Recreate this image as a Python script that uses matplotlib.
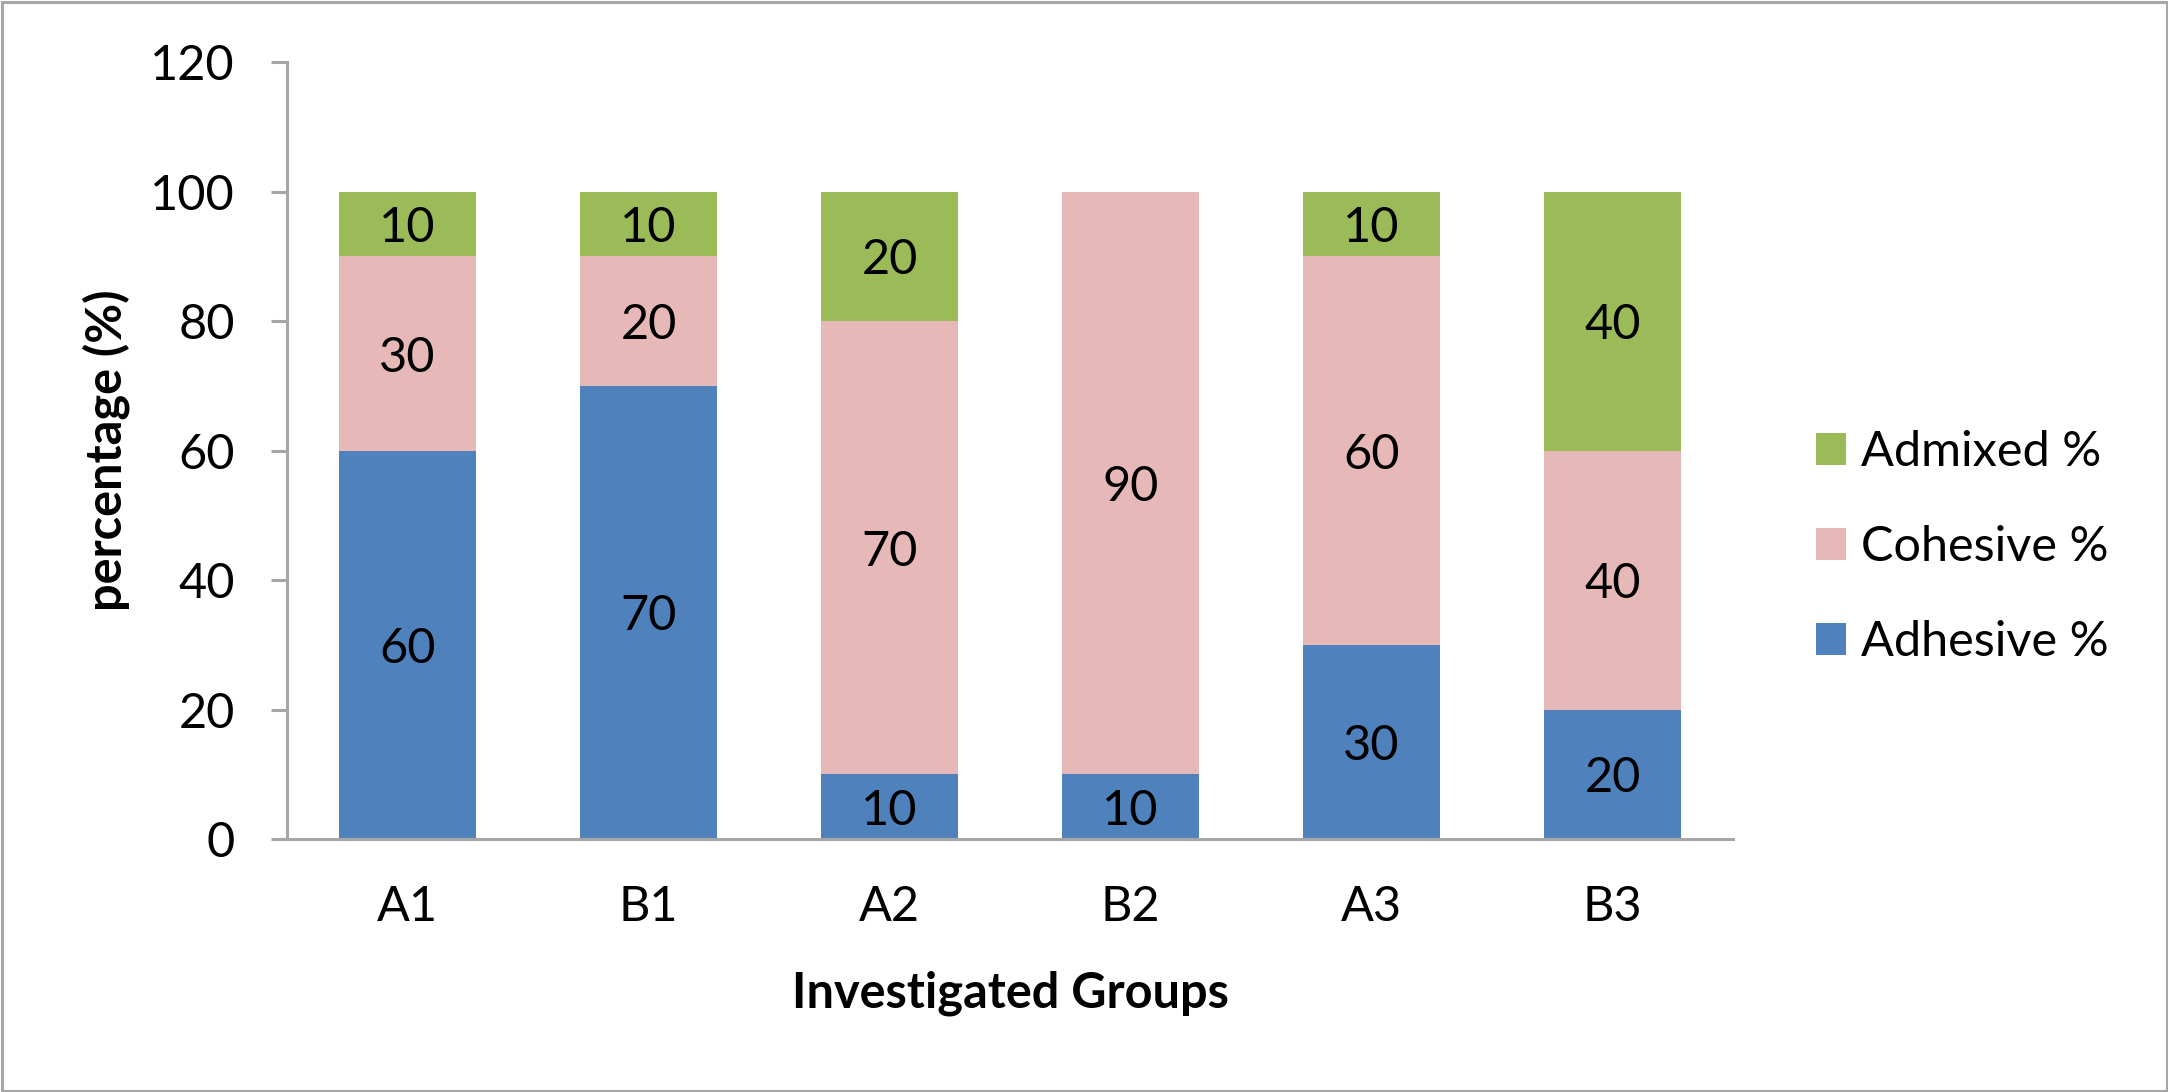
import numpy as np
import matplotlib
matplotlib.use('Agg')
import matplotlib.pyplot as plt
from matplotlib.patches import Rectangle

# data
groups = ['A1', 'B1', 'A2', 'B2', 'A3', 'B3']
adhesive = [60, 70, 10, 10, 30, 20]
cohesive = [30, 20, 70, 90, 60, 40]
admixed = [10, 10, 20, 0, 10, 40]

series_names = ['Adhesive %', 'Cohesive %', 'Admixed %']
colors = ['#4F81BD', '#E6B9B8', '#9BBB59']
yticks = [0, 20, 40, 60, 80, 100, 120]

plt.rcParams['font.family'] = ['Lato', 'DejaVu Sans']
fs = 35
axis_gray = '#A6A6A6'

W, H = 2168, 1092
fig = plt.figure(figsize=(W / 100, H / 100), dpi=100)
ax = fig.add_axes([287 / W, 1 - 839 / H, (1733 - 287) / W, (839 - 62.3) / H])

x = np.arange(len(groups))
bw = 137 / 241.0
bottom = np.zeros(len(groups))
containers = []
for vals, col, name in zip([adhesive, cohesive, admixed], colors, series_names):
    c = ax.bar(x, vals, bw, bottom=bottom, color=col, label=name, zorder=2)
    containers.append((c, vals))
    bottom = bottom + np.array(vals)

#data labels in the middle of each segment, skip empty ones
for c, vals in containers:
    texts = ax.bar_label(c, labels=[str(v) if v else '' for v in vals],
                         label_type='center', fontsize=fs, color='black')
    for t in texts:
        t.set_va('center_baseline')

ax.set_xlim(-0.5, len(groups) - 0.5)
ax.set_ylim(0, 120)
ax.set_yticks(yticks)
ax.set_xticks(x)
ax.set_xticklabels(groups)

for s in ['top', 'right']:
    ax.spines[s].set_visible(False)
for s in ['left', 'bottom']:
    ax.spines[s].set_color(axis_gray)
    ax.spines[s].set_linewidth(2.2)

ax.tick_params(axis='y', length=11.5, width=2.2, color=axis_gray,
               labelsize=fs, pad=26)
ax.tick_params(axis='x', length=0, labelsize=fs, pad=33)

ax.set_xlabel('Investigated Groups', fontsize=fs, fontweight='bold', va='baseline')
ax.xaxis.set_label_coords(0.5, (839 - 1008) / 776.7)

fig.text(122 / W, 1 - 450 / H, 'percentage (%)', fontsize=fs, fontweight='bold',
         rotation=90, rotation_mode='anchor', ha='center', va='baseline')

handles, labels = ax.get_legend_handles_labels()
leg = ax.legend(handles[::-1], labels[::-1], loc='center left',
                bbox_to_anchor=(1816 / W, 1 - 547 / H),
                bbox_transform=fig.transFigure, frameon=False, fontsize=fs,
                handlelength=0.62, handleheight=0.62, handletextpad=0.31,
                labelspacing=1.05, borderpad=0, borderaxespad=0)

fig.patches.append(Rectangle((1.5 / W, 1.5 / H), 1 - 3 / W, 1 - 3 / H,
                             transform=fig.transFigure, fill=False,
                             edgecolor=axis_gray, linewidth=2.2))

fig.savefig('out.png', dpi=100)
